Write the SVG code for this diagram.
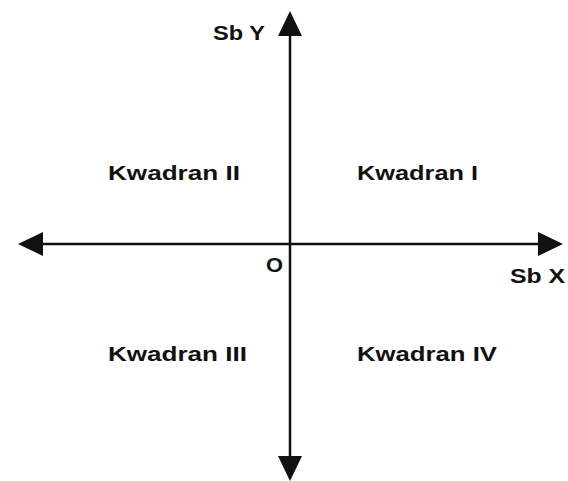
<svg xmlns="http://www.w3.org/2000/svg" width="568" height="481" viewBox="0 0 568 481">
<defs>
<style>
.lbl{font-family:"Liberation Sans",Arial,sans-serif;font-weight:bold;font-size:20px;fill:#111}
.axis{stroke:#111;stroke-width:2.5;fill:none}
</style>
<marker id="ah" viewBox="0 0 25 24" refX="0" refY="12" markerWidth="25" markerHeight="24" markerUnits="userSpaceOnUse" orient="auto">
<path d="M0,0 L25,12 L0,24 Z" fill="#111"/>
</marker>
</defs>
<rect width="568" height="481" fill="#fff"/>
<g id="connectors">
<line class="axis" x1="290" y1="244" x2="538" y2="244" marker-end="url(#ah)"/>
<line class="axis" x1="290" y1="244" x2="43" y2="244" marker-end="url(#ah)"/>
<line class="axis" x1="290" y1="244" x2="290" y2="36" marker-end="url(#ah)"/>
<line class="axis" x1="290" y1="244" x2="290" y2="456" marker-end="url(#ah)"/>
</g>
<g id="label-sby"><text class="lbl" x="213" y="40" textLength="52" lengthAdjust="spacingAndGlyphs">Sb Y</text></g>
<g id="label-sbx"><text class="lbl" x="510" y="283" textLength="55" lengthAdjust="spacingAndGlyphs">Sb X</text></g>
<g id="label-o"><text class="lbl" x="266" y="272" textLength="17" lengthAdjust="spacingAndGlyphs">O</text></g>
<g id="q1"><text class="lbl" x="357" y="180" textLength="121" lengthAdjust="spacingAndGlyphs">Kwadran I</text></g>
<g id="q2"><text class="lbl" x="108" y="180" textLength="132" lengthAdjust="spacingAndGlyphs">Kwadran II</text></g>
<g id="q3"><text class="lbl" x="108" y="361" textLength="139" lengthAdjust="spacingAndGlyphs">Kwadran III</text></g>
<g id="q4"><text class="lbl" x="357" y="361" textLength="140" lengthAdjust="spacingAndGlyphs">Kwadran IV</text></g>
</svg>
